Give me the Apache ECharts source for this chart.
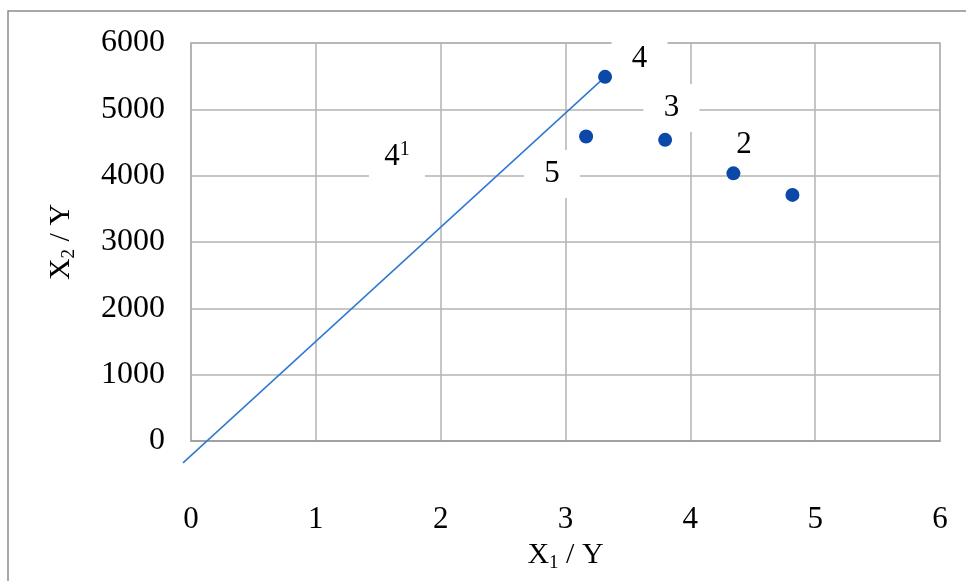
<!DOCTYPE html>
<html>
<head>
<meta charset="utf-8">
<script src="https://cdn.jsdelivr.net/npm/echarts@6/dist/echarts.min.js"></script>
<style>
  html, body { margin: 0; padding: 0; background: #fff; }
  #chart { width: 966px; height: 581px; }
</style>
</head>
<body>
<div id="chart"></div>
<script>
// points
var pointX = [3.317, 3.165, 3.798, 4.345, 4.818];
var pointY = [5490, 4590, 4540, 4035, 3710];

// straight line ending at point 4
var lineX = [-0.064, 3.317];
var lineY = [-330, 5490];

// text labels and where they sit (data coords)
var labelText = ['4', '3', '2', '5', '4{sup|1}'];
var labelX = [3.593, 3.849, 4.430, 2.892, 1.650];
var labelY = [5760, 5020, 4465, 4025, 4285];

var xTicks = [0, 1, 2, 3, 4, 5, 6];
var yTicks = [0, 1000, 2000, 3000, 4000, 5000, 6000];

var font = 'Liberation Serif';
var gridColor = '#b3b3b3';

var myChart = echarts.init(document.getElementById('chart'));

var points = pointX.map(function (x, i) { return [x, pointY[i]]; });
var line = lineX.map(function (x, i) { return [x, lineY[i]]; });
var labels = labelX.map(function (x, i) { return { value: [x, labelY[i]], name: labelText[i] }; });

var option = {
  backgroundColor: '#fff',
  animation: false,
  graphic: [
    {
      type: 'polyline',
      shape: { points: [[8, 600], [8, 11], [980, 11]] },
      style: { stroke: '#8c8c8c', lineWidth: 1.5, fill: null }
    }
  ],
  grid: {
    left: 191,
    right: 26,
    top: 43,
    bottom: 140,
    show: true,
    borderColor: gridColor,
    borderWidth: 1.5
  },
  xAxis: {
    type: 'value',
    min: xTicks[0],
    max: xTicks[xTicks.length - 1],
    interval: 1,
    name: 'X{sub|1} / Y',
    nameLocation: 'middle',
    nameGap: 82,
    nameTextStyle: {
      fontFamily: font, fontSize: 30, color: '#000',
      rich: { sub: { fontFamily: font, fontSize: 19, color: '#000', padding: [16, 0, 0, 0] } }
    },
    axisLine: { show: true, lineStyle: { color: '#999', width: 1.5 } },
    axisTick: { show: false },
    axisLabel: { fontFamily: font, fontSize: 31, color: '#000', margin: 63,
      formatter: function (v) { return String(v); } },
    splitLine: { show: true, lineStyle: { color: gridColor, width: 1.5 } }
  },
  yAxis: {
    type: 'value',
    min: yTicks[0],
    max: yTicks[yTicks.length - 1],
    interval: 1000,
    name: 'X{sub|2} / Y',
    nameLocation: 'middle',
    nameRotate: 90,
    nameGap: 112,
    nameTextStyle: {
      fontFamily: font, fontSize: 30, color: '#000',
      rich: { sub: { fontFamily: font, fontSize: 19, color: '#000', padding: [16, 0, 0, 0] } }
    },
    axisLine: { show: true, lineStyle: { color: gridColor, width: 1.5 } },
    axisTick: { show: false },
    axisLabel: { fontFamily: font, fontSize: 32, color: '#000', margin: 26,
      formatter: function (v) { return String(v); } },
    splitLine: { show: true, lineStyle: { color: gridColor, width: 1.5 } }
  },
  series: [
    {
      type: 'scatter',
      data: labels,
      symbol: 'circle',
      symbolSize: 1,
      z: 3,
      itemStyle: { color: '#fff', opacity: 1 },
      label: {
        show: true,
        position: 'inside',
        formatter: '{b}',
        fontFamily: font,
        fontSize: 31,
        color: '#000',
        opacity: 1,
        backgroundColor: '#fff',
        width: 56,
        height: 48,
        lineHeight: 48,
        align: 'center',
        verticalAlign: 'middle',
        rich: {
          sup: { fontFamily: font, fontSize: 20, color: '#000', lineHeight: 48, padding: [0, 0, 14, 0] }
        }
      },
      emphasis: { disabled: true },
      labelLayout: { hideOverlap: false }
    },
    {
      type: 'custom',
      data: line,
      clip: false,
      z: 4,
      renderItem: function (params, api) {
        if (params.dataIndex !== 0) return null;
        var a = api.coord(line[0]);
        var b = api.coord(line[1]);
        return {
          type: 'line',
          shape: { x1: a[0], y1: a[1], x2: b[0], y2: b[1] },
          style: { stroke: '#2e78d2', lineWidth: 1.5 }
        };
      }
    },
    {
      type: 'scatter',
      data: points,
      symbol: 'circle',
      symbolSize: 14,
      z: 5,
      itemStyle: { color: '#0b48a8', opacity: 1 }
    }
  ]
};

myChart.setOption(option);
</script>
</body>
</html>
